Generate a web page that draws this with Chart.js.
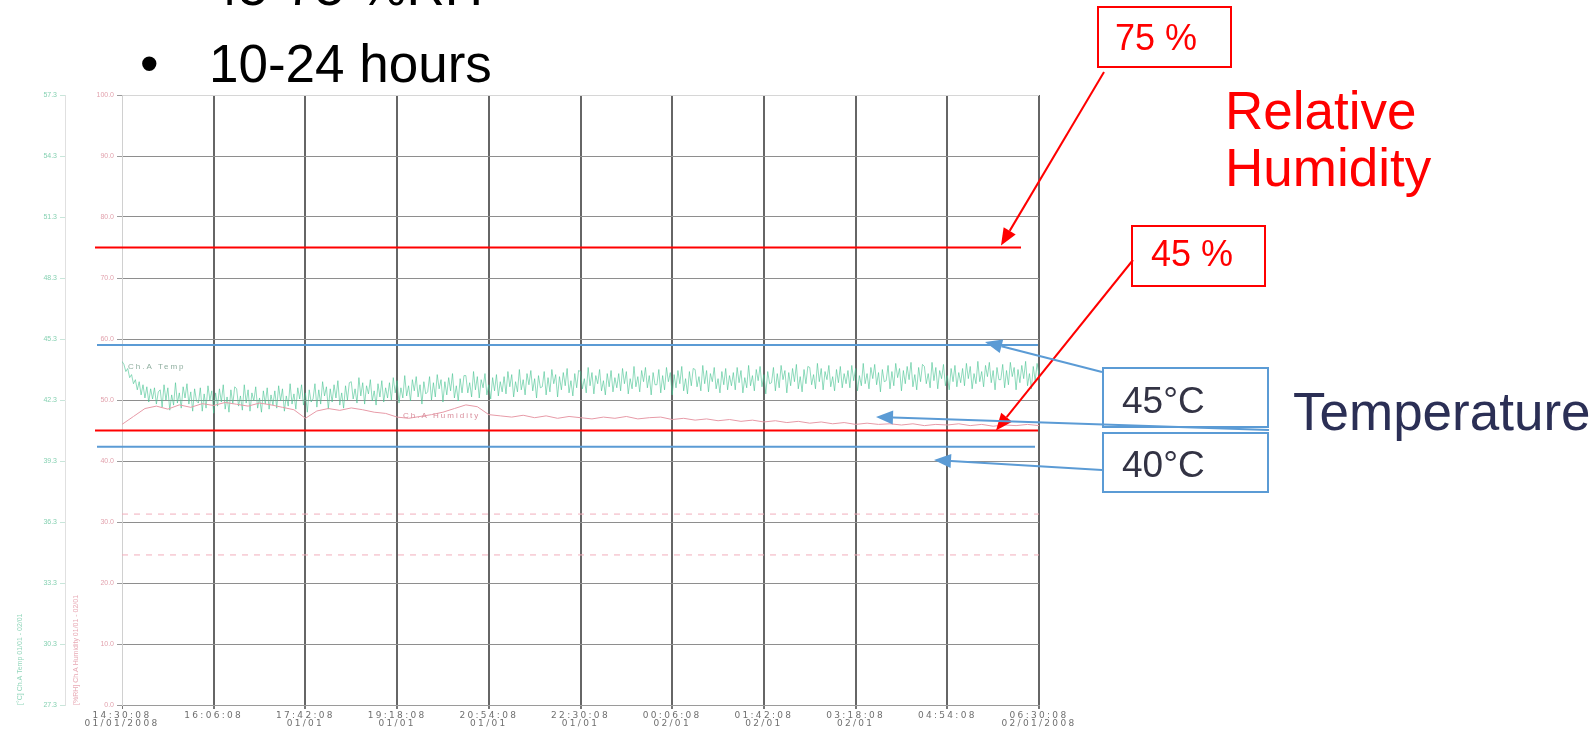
<!DOCTYPE html>
<html>
<head>
<meta charset="utf-8">
<script src="https://cdn.jsdelivr.net/npm/chart.js@4.4.1/dist/chart.umd.min.js"></script>
<style>
html, body { margin: 0; padding: 0; background: #fff; }
#slide { position: relative; width: 1596px; height: 734px; overflow: hidden; font-family: "Liberation Sans", Arial, sans-serif; }
#plot { position: absolute; left: 0; top: 0; }
.t { position: absolute; white-space: nowrap; line-height: 1; }
.box { position: absolute; box-sizing: border-box; border: 2px solid; }
.red { color: #ff0000; }
</style>
</head>
<body>
<div id="slide">
  <canvas id="plot" width="1596" height="734"></canvas>

  <div class="t" style="left:140px;top:-40px;font-size:53px;color:#000">•</div>
  <div class="t" style="left:209px;top:-40px;font-size:53px;color:#000">45-75 %RH</div>
  <div class="t" style="left:140px;top:37px;font-size:53px;color:#000">•</div>
  <div class="t" style="left:209px;top:37px;font-size:53px;color:#000">10-24 hours</div>

  <div class="box" style="left:1097px;top:6px;width:135px;height:62px;border-color:#ff0000"></div>
  <div class="t red" style="left:1115px;top:19.5px;font-size:36px">75 %</div>
  <div class="t red" style="left:1225px;top:83.5px;font-size:53px">Relative</div>
  <div class="t red" style="left:1225px;top:141px;font-size:53px">Humidity</div>
  <div class="box" style="left:1131px;top:224.5px;width:135px;height:62px;border-color:#ff0000"></div>
  <div class="t red" style="left:1151px;top:236px;font-size:36px">45 %</div>

  <div class="box" style="left:1102px;top:367px;width:167px;height:61px;border-color:#5b9bd5"></div>
  <div class="t" style="left:1122px;top:381.5px;font-size:37px;color:#333344">45°C</div>
  <div class="box" style="left:1102px;top:432px;width:167px;height:61px;border-color:#5b9bd5"></div>
  <div class="t" style="left:1122px;top:446px;font-size:37px;color:#333344">40°C</div>
  <div class="t" style="left:1293px;top:385px;font-size:53px;color:#2b2f55">Temperature</div>
</div>

<script>
// Time axis: minutes since 14:30:08 on 01/01/2008, one tick every 1 h 36 min
const xTickMinutes = [0, 96, 192, 288, 384, 480, 576, 672, 768, 864, 960];
const xTickLabels = [
  ['14:30:08', '01/01/2008'], '16:06:08', ['17:42:08', '01/01'], ['19:18:08', '01/01'],
  ['20:54:08', '01/01'], ['22:30:08', '01/01'], ['00:06:08', '02/01'], ['01:42:08', '02/01'],
  ['03:18:08', '02/01'], '04:54:08', ['06:30:08', '02/01/2008']
];

// Left axes
const rhTicks = [0, 10, 20, 30, 40, 50, 60, 70, 80, 90, 100];
const tempTicks = [27.3, 30.3, 33.3, 36.3, 39.3, 42.3, 45.3, 48.3, 51.3, 54.3, 57.3];

// Channel A temperature (°C), logged every 2 minutes
const tempStepMin = 2;
const tempValues = [
  44.20, 44.05, 43.70, 43.85, 43.40, 43.55, 43.10, 43.30, 42.80, 43.20, 42.55, 43.05, 42.40, 42.95, 42.20, 42.85, 42.35, 42.90, 42.10, 42.70,
  42.80, 41.95, 43.05, 42.30, 42.90, 41.80, 42.55, 42.05, 43.15, 42.15, 42.65, 41.90, 42.95, 42.40, 43.10, 42.10, 42.70, 41.75, 42.85, 42.25,
  42.15, 42.90, 41.75, 42.60, 41.90, 43.00, 42.30, 42.75, 41.65, 42.65, 42.00, 42.85, 42.20, 43.05, 41.85, 42.45, 41.70, 42.80, 42.10, 42.95,
  42.85, 42.00, 42.50, 41.80, 43.05, 42.15, 42.80, 41.75, 42.65, 42.25, 42.95, 41.90, 42.40, 41.70, 42.75, 42.10, 42.90, 41.85, 42.55, 42.05,
  42.75, 41.90, 43.00, 42.25, 42.85, 41.75, 42.50, 42.00, 43.10, 42.10, 42.60, 41.85, 42.90, 42.35, 43.05, 42.05, 42.65, 41.70, 42.80, 42.20,
  42.35, 43.10, 41.95, 42.80, 42.10, 43.20, 42.50, 42.95, 41.85, 42.85, 42.20, 43.05, 42.40, 43.25, 42.05, 42.65, 41.90, 43.00, 42.30, 43.15,
  43.20, 42.35, 42.85, 42.15, 43.40, 42.50, 43.15, 42.10, 43.00, 42.60, 43.30, 42.25, 42.75, 42.05, 43.10, 42.45, 43.25, 42.20, 42.90, 42.40,
  43.15, 42.30, 43.40, 42.65, 43.25, 42.15, 42.90, 42.40, 43.50, 42.50, 43.00, 42.25, 43.30, 42.75, 43.45, 42.45, 43.05, 42.10, 43.20, 42.60,
  42.70, 43.45, 42.30, 43.15, 42.45, 43.55, 42.85, 43.30, 42.20, 43.20, 42.55, 43.40, 42.75, 43.60, 42.40, 43.00, 42.25, 43.35, 42.65, 43.50,
  43.50, 42.65, 43.15, 42.45, 43.70, 42.80, 43.45, 42.40, 43.30, 42.90, 43.60, 42.55, 43.05, 42.35, 43.40, 42.75, 43.55, 42.50, 43.20, 42.70,
  43.45, 42.60, 43.70, 42.95, 43.55, 42.45, 43.20, 42.70, 43.80, 42.80, 43.30, 42.55, 43.60, 43.05, 43.75, 42.75, 43.35, 42.40, 43.50, 42.90,
  42.95, 43.70, 42.55, 43.40, 42.70, 43.80, 43.10, 43.55, 42.45, 43.45, 42.80, 43.65, 43.00, 43.85, 42.65, 43.25, 42.50, 43.60, 42.90, 43.75,
  43.70, 42.85, 43.35, 42.65, 43.90, 43.00, 43.65, 42.60, 43.50, 43.10, 43.80, 42.75, 43.25, 42.55, 43.60, 42.95, 43.75, 42.70, 43.40, 42.90,
  43.60, 42.75, 43.85, 43.10, 43.70, 42.60, 43.35, 42.85, 43.95, 42.95, 43.45, 42.70, 43.75, 43.20, 43.90, 42.90, 43.50, 42.55, 43.65, 43.05,
  43.05, 43.80, 42.65, 43.50, 42.80, 43.90, 43.20, 43.65, 42.55, 43.55, 42.90, 43.75, 43.10, 43.95, 42.75, 43.35, 42.60, 43.70, 43.00, 43.85,
  43.80, 42.95, 43.45, 42.75, 44.00, 43.10, 43.75, 42.70, 43.60, 43.20, 43.90, 42.85, 43.35, 42.65, 43.70, 43.05, 43.85, 42.80, 43.50, 43.00,
  43.65, 42.80, 43.90, 43.15, 43.75, 42.65, 43.40, 42.90, 44.00, 43.00, 43.50, 42.75, 43.80, 43.25, 43.95, 42.95, 43.55, 42.60, 43.70, 43.10,
  43.15, 43.90, 42.75, 43.60, 42.90, 44.00, 43.30, 43.75, 42.65, 43.65, 43.00, 43.85, 43.20, 44.05, 42.85, 43.45, 42.70, 43.80, 43.10, 43.95,
  43.90, 43.05, 43.55, 42.85, 44.10, 43.20, 43.85, 42.80, 43.70, 43.30, 44.00, 42.95, 43.45, 42.75, 43.80, 43.15, 43.95, 42.90, 43.60, 43.10,
  43.75, 42.90, 44.00, 43.25, 43.85, 42.75, 43.50, 43.00, 44.10, 43.10, 43.60, 42.85, 43.90, 43.35, 44.05, 43.05, 43.65, 42.70, 43.80, 43.20,
  43.25, 44.00, 42.85, 43.70, 43.00, 44.10, 43.40, 43.85, 42.75, 43.75, 43.10, 43.95, 43.30, 44.15, 42.95, 43.55, 42.80, 43.90, 43.20, 44.05,
  43.95, 43.10, 43.60, 42.90, 44.15, 43.25, 43.90, 42.85, 43.75, 43.35, 44.05, 43.00, 43.50, 42.80, 43.85, 43.20, 44.00, 42.95, 43.65, 43.15,
  43.85, 43.00, 44.10, 43.35, 43.95, 42.85, 43.60, 43.10, 44.20, 43.20, 43.70, 42.95, 44.00, 43.45, 44.15, 43.15, 43.75, 42.80, 43.90, 43.30,
  43.30, 44.05, 42.90, 43.75, 43.05, 44.15, 43.45, 43.90, 42.80, 43.80, 43.15, 44.00, 43.35, 44.20, 43.00, 43.60, 42.85, 43.95, 43.25, 44.10,
  43.55
];

// Channel A relative humidity (%RH), logged every 12 minutes
const rhStepMin = 12;
const rhValues = [
  46.0, 47.3, 48.6, 49.0, 48.5, 49.2, 48.8, 49.4, 49.1, 49.6,
  49.3, 49.0, 49.5, 49.2, 48.8, 48.4, 47.0, 48.2, 48.6, 48.3,
  48.7, 48.4, 48.0, 47.8, 47.2, 47.0, 47.3, 47.6, 48.0, 48.6,
  49.2, 48.9, 47.6, 47.4, 47.2, 47.5, 47.1, 47.4, 47.0, 47.3,
  47.1, 46.9, 47.2, 47.0, 47.3, 46.9, 47.1, 47.2, 46.8, 47.0,
  46.7, 46.9, 46.6, 46.8, 46.5, 46.7, 46.4, 46.6, 46.3, 46.5,
  46.2, 46.4, 46.1, 46.3, 46.0, 46.2, 46.0, 46.1, 45.9, 46.1,
  45.8, 46.0, 45.9, 46.1, 45.8, 46.0, 45.7, 45.9, 45.8, 46.0, 45.8
];

// Dashed humidity alarm levels of the logger (%RH)
const rhAlarmLevels = [31.3, 24.6];

// Test window limits
const rhLimits = [75, 45];     // %RH
const tempLimits = [45, 40];   // °C

const FONT = '"Liberation Sans", Arial, sans-serif';
Chart.defaults.font.family = FONT;

const tempPoints = tempValues.map((v, i) => ({ x: i * tempStepMin, y: v }));
const rhPoints = rhValues.map((v, i) => ({ x: i * rhStepMin, y: v }));
const xMin = xTickMinutes[0], xMax = xTickMinutes[xTickMinutes.length - 1];

const alarmSets = rhAlarmLevels.map(v => ({
  label: 'RH alarm ' + v,
  data: [{ x: xMin, y: v }, { x: xMax, y: v }],
  yAxisID: 'yRH',
  borderColor: '#f2aebb',
  borderWidth: 1,
  borderDash: [6, 6],
  pointRadius: 0
}));

function arrow(ctx, x0, y0, x1, y1, color) {
  const ang = Math.atan2(y1 - y0, x1 - x0);
  const len = 17, hw = 7;
  const bx = x1 - len * Math.cos(ang), by = y1 - len * Math.sin(ang);
  ctx.strokeStyle = color;
  ctx.fillStyle = color;
  ctx.lineWidth = 2;
  ctx.beginPath();
  ctx.moveTo(x0, y0);
  ctx.lineTo(bx, by);
  ctx.stroke();
  ctx.beginPath();
  ctx.moveTo(x1, y1);
  ctx.lineTo(bx + hw * Math.sin(ang), by - hw * Math.cos(ang));
  ctx.lineTo(bx - hw * Math.sin(ang), by + hw * Math.cos(ang));
  ctx.closePath();
  ctx.fill();
}

const overlay = {
  id: 'overlay',
  afterDatasetsDraw(chart) {
    const { ctx, chartArea: a } = chart;
    ctx.save();
    ctx.letterSpacing = '2px';
    ctx.font = '8px ' + FONT;
    ctx.textBaseline = 'alphabetic';
    ctx.fillStyle = '#8fae9f';
    ctx.fillText('Ch.A Temp', a.left + 6, 369);
    ctx.fillStyle = '#d98f9d';
    ctx.fillText('Ch.A Humidity', a.left + 281, 418);
    ctx.restore();
    // the logger prints its time labels widely spaced
    ctx.letterSpacing = '2.3px';
  },
  afterDraw(chart) {
    const { ctx, chartArea: a, scales } = chart;
    ctx.letterSpacing = '0px';
    const yRH = scales.yRH, yT = scales.yT;
    ctx.save();
    ctx.lineWidth = 2;
    const hline = (y, x0, x1, c) => {
      ctx.strokeStyle = c;
      ctx.beginPath(); ctx.moveTo(x0, y); ctx.lineTo(x1, y); ctx.stroke();
    };
    const r75 = yRH.getPixelForValue(rhLimits[0]);
    const r45 = yRH.getPixelForValue(rhLimits[1]);
    const t45 = yT.getPixelForValue(tempLimits[0]);
    const t40 = yT.getPixelForValue(tempLimits[1]);
    hline(r75, a.left - 27, a.right - 18, '#ff0000');
    hline(r45, a.left - 27, a.right - 1, '#ff0000');
    hline(t45, a.left - 25, a.right - 1, '#5b9bd5');
    hline(t40, a.left - 25, a.right - 4, '#5b9bd5');
    arrow(ctx, 1104, 72, 1001, r75 - 2, '#ff0000');
    arrow(ctx, 1133, 260, 996, r45, '#ff0000');
    arrow(ctx, 1102, 372, 985, t45 - 3, '#5b9bd5');
    arrow(ctx, 1269, 430, 876, 417, '#5b9bd5');
    arrow(ctx, 1102, 470, 934, 460, '#5b9bd5');
    ctx.restore();
  }
};

new Chart(document.getElementById('plot'), {
  type: 'line',
  data: {
    datasets: [
      ...alarmSets,
      {
        label: 'Ch.A Humidity',
        data: rhPoints,
        yAxisID: 'yRH',
        borderColor: '#e79aa7',
        borderWidth: 1,
        pointRadius: 0
      },
      {
        label: 'Ch.A Temp',
        data: tempPoints,
        yAxisID: 'yT',
        borderColor: 'rgba(70,195,145,0.6)',
        borderWidth: 1,
        pointRadius: 0
      }
    ]
  },
  options: {
    responsive: false,
    animation: false,
    devicePixelRatio: 1,
    layout: { padding: { top: 95, right: 557, bottom: 0, left: 0 } },
    plugins: { legend: { display: false }, tooltip: { enabled: false } },
    elements: { line: { tension: 0 } },
    scales: {
      x: {
        type: 'linear',
        min: xMin,
        max: xMax,
        afterBuildTicks: s => { s.ticks = xTickMinutes.map(v => ({ value: v })); },
        afterFit: s => { s.height = 29; },
        ticks: {
          z: 1,
          autoSkip: false,
          maxRotation: 0,
          padding: 2,
          color: '#6f6f6f',
          font: { family: '"DejaVu Sans", sans-serif', size: 9, lineHeight: 0.95 },
          callback: (v, i) => xTickLabels[i]
        },
        grid: {
          color: c => c.index === 0 ? '#cfcfcf' : '#666666',
          lineWidth: c => c.index === 0 ? 1 : 2,
          tickLength: 4,
          tickColor: '#777'
        },
        border: { color: '#9a9a9a', width: 1 }
      },
      yRH: {
        type: 'linear',
        position: 'left',
        weight: 0,
        min: 0,
        max: 100,
        afterBuildTicks: s => { s.ticks = rhTicks.map(v => ({ value: v })); },
        afterFit: s => { s.width = 57; },
        ticks: {
          padding: 3,
          color: '#e2a3ae',
          font: { size: 7 },
          callback: v => v.toFixed(1)
        },
        grid: {
          color: c => c.index === rhTicks.length - 1 ? '#d6d6d6' : '#8e8e8e',
          lineWidth: 1,
          tickLength: 5,
          tickColor: '#9a9a9a'
        },
        border: { color: '#d0d0d0', width: 1 },
        title: {
          display: true,
          text: '[%RH] Ch.A Humidity 01/01 - 02/01',
          align: 'start',
          color: '#e8aab5',
          font: { size: 7 },
          padding: { top: 7, bottom: 0 }
        }
      },
      yT: {
        type: 'linear',
        position: 'left',
        weight: 1,
        min: tempTicks[0],
        max: tempTicks[tempTicks.length - 1],
        afterBuildTicks: s => { s.ticks = tempTicks.map(v => ({ value: v })); },
        afterFit: s => { s.width = 65; },
        ticks: {
          padding: 3,
          color: '#86d1b2',
          font: { size: 7 },
          callback: v => v.toFixed(1)
        },
        grid: {
          drawOnChartArea: false,
          tickLength: 5,
          tickColor: '#c8e6da'
        },
        border: { color: '#e0e0e0', width: 1 },
        title: {
          display: true,
          text: '[°C] Ch.A Temp 01/01 - 02/01',
          align: 'start',
          color: '#92d6bb',
          font: { size: 7 },
          padding: { top: 16, bottom: 0 }
        }
      }
    }
  },
  plugins: [overlay]
});
</script>
</body>
</html>
